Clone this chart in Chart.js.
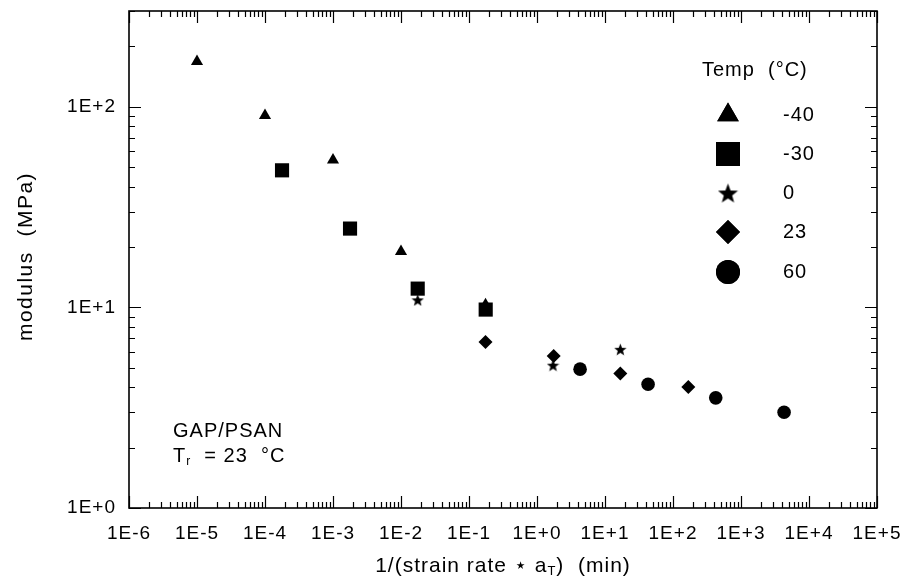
<!DOCTYPE html>
<html>
<head>
<meta charset="utf-8">
<script src="https://cdn.jsdelivr.net/npm/chart.js@4.4.1/dist/chart.umd.min.js"></script>
<style>
  html, body { margin: 0; padding: 0; background: #fff; }
  #wrap { width: 904px; height: 582px; }
</style>
</head>
<body>
<div id="wrap"><canvas id="chartModulus" width="904" height="582"></canvas></div>
<script>
// reduced time 1/(strain rate * aT) in min, modulus in MPa, one pair per test temperature
const tempLabels = ["-40", "-30", "0", "23", "60"];

const timeM40 = [1e-5, 1e-4, 1e-3, 1e-2, 0.175];
const modM40 = [168, 90.5, 54.3, 19.0, 10.3];

const timeM30 = [1.78e-4, 1.78e-3, 1.76e-2, 0.176];
const modM30 = [48.2, 24.7, 12.4, 9.75];

const time0 = [1.76e-2, 1.72, 16.8];
const mod0 = [10.9, 5.15, 6.18];

const time23 = [0.175, 1.76, 16.8, 168];
const mod23 = [6.72, 5.72, 4.68, 4.01];

const time60 = [4.3, 43, 425, 4300];
const mod60 = [4.92, 4.14, 3.54, 3.0];

const xTickValues = [1e-6, 1e-5, 1e-4, 1e-3, 1e-2, 1e-1, 1, 10, 100, 1000, 1e4, 1e5];
const yTickValues = [1, 10, 100];

const FONT = "'Liberation Sans', Arial, Helvetica, sans-serif";

function star_canvas(size) {
  const c = document.createElement("canvas");
  c.width = size;
  c.height = size;
  const g = c.getContext("2d");
  const R = size / 2, r = R * 0.42, cx = size / 2, cy = size / 2 + R * 0.1;
  g.beginPath();
  for (let i = 0; i < 10; i++) {
    const a = -Math.PI / 2 + (i * Math.PI) / 5;
    const rr = i % 2 ? r : R;
    g.lineTo(cx + rr * Math.cos(a), cy + rr * Math.sin(a));
  }
  g.closePath();
  g.fillStyle = "#000";
  g.fill();
  return c;
}

const starSmall = star_canvas(13);
const starBig = star_canvas(21);

const pts = (xs, ys) => xs.map((x, i) => ({ x: x, y: ys[i] }));

const seriesStyles = [
  { pointStyle: "triangle", pointRadius: 7, legendRadius: 12.5 },
  { pointStyle: "rect", pointRadius: 10, legendRadius: 17 },
  { pointStyle: starSmall, pointRadius: 6, legendImg: starBig },
  { pointStyle: "rectRot", pointRadius: 7, legendRadius: 12 },
  { pointStyle: "circle", pointRadius: 6.8, legendRadius: 12 },
];

const seriesData = [
  pts(timeM40, modM40),
  pts(timeM30, modM30),
  pts(time0, mod0),
  pts(time23, mod23),
  pts(time60, mod60),
];

const decadeLabel = (v) => {
  const e = Math.round(Math.log10(v));
  return "1E" + (e < 0 ? "-" : "+") + Math.abs(e);
};

// the scanned figure has slightly wide letter spacing
const spacing = {
  id: "spacing",
  beforeDraw(chart) {
    chart.ctx.letterSpacing = "1px";
  },
};

// frame with inward major + minor ticks on all four sides
const frameTicks = {
  id: "frameTicks",
  afterDraw(chart) {
    const ctx = chart.ctx;
    const a = chart.chartArea;
    const xs = chart.scales.x, ys = chart.scales.y;
    ctx.save();
    ctx.strokeStyle = "#000";
    ctx.lineWidth = 1.6;
    ctx.strokeRect(a.left, a.top, a.right - a.left, a.bottom - a.top);
    ctx.lineWidth = 1.2;
    const major = 12, minor = 6;
    ctx.beginPath();
    for (let k = -6; k <= 5; k++) {
      for (let m = 1; m <= 9; m++) {
        const v = m * Math.pow(10, k);
        if (v < xs.min * 0.999 || v > xs.max * 1.001) continue;
        const px = Math.round(xs.getPixelForValue(v)) + 0.5;
        const len = m === 1 ? major : minor;
        ctx.moveTo(px, a.bottom);
        ctx.lineTo(px, a.bottom - len);
        ctx.moveTo(px, a.top);
        ctx.lineTo(px, a.top + len);
      }
    }
    for (let k = 0; k <= 2; k++) {
      for (let m = 1; m <= 9; m++) {
        const v = m * Math.pow(10, k);
        if (v < ys.min * 0.999 || v > ys.max * 1.001) continue;
        const py = Math.round(ys.getPixelForValue(v)) + 0.5;
        const len = m === 1 ? major : minor;
        ctx.moveTo(a.left, py);
        ctx.lineTo(a.left + len, py);
        ctx.moveTo(a.right, py);
        ctx.lineTo(a.right - len, py);
      }
    }
    ctx.stroke();
    ctx.restore();
  },
};

// axis titles, annotation and the temperature legend
const textLayer = {
  id: "textLayer",
  afterDraw(chart) {
    const ctx = chart.ctx;
    const a = chart.chartArea;
    ctx.save();
    ctx.fillStyle = "#000";
    ctx.textBaseline = "middle";
    ctx.letterSpacing = "1px";

    // y title
    ctx.save();
    ctx.translate(26, (a.top + a.bottom) / 2 - 3);
    ctx.rotate(-Math.PI / 2);
    ctx.textAlign = "center";
    ctx.font = "21px " + FONT;
    ctx.letterSpacing = "1.5px";
    ctx.fillText("modulus  (MPa)", 0, 0);
    ctx.restore();

    // x title with subscript T
    const big = "21px " + FONT, small = "13px " + FONT;
    const p1 = "1/(strain rate \u22C6 a", p2 = "T", p3 = ")  (min)";
    ctx.font = big;
    const w1 = ctx.measureText(p1).width, w3 = ctx.measureText(p3).width;
    ctx.font = small;
    const w2 = ctx.measureText(p2).width;
    let x0 = (a.left + a.right) / 2 - (w1 + w2 + w3) / 2;
    const ty = 566;
    ctx.textAlign = "left";
    ctx.font = big;
    ctx.fillText(p1, x0, ty);
    ctx.font = small;
    ctx.fillText(p2, x0 + w1, ty + 5);
    ctx.font = big;
    ctx.fillText(p3, x0 + w1 + w2, ty);

    // annotation
    ctx.font = "20px " + FONT;
    ctx.fillText("GAP/PSAN", 173, 431);
    ctx.fillText("T", 173, 456);
    const tw = ctx.measureText("T").width;
    ctx.font = "12px " + FONT;
    ctx.fillText("r", 173 + tw, 462);
    const rw = ctx.measureText("r").width;
    ctx.font = "20px " + FONT;
    ctx.fillText("  = 23  \u00B0C", 173 + tw + rw, 456);

    // legend
    ctx.fillText("Temp  (\u00B0C)", 702, 70);
    const rowY = [115, 154, 193, 232, 272];
    const mx = 728, lx = 783;
    seriesStyles.forEach((s, i) => {
      const y = rowY[i];
      if (s.legendImg) {
        ctx.drawImage(s.legendImg, mx - s.legendImg.width / 2, y - s.legendImg.height / 2);
      } else {
        Chart.helpers.drawPoint(ctx, {
          pointStyle: s.pointStyle, radius: s.legendRadius, rotation: 0, borderWidth: 0,
        }, mx, y);
        ctx.fill();
      }
      ctx.font = "20px " + FONT;
      ctx.fillStyle = "#000";
      ctx.textAlign = "left";
      ctx.fillText(tempLabels[i], lx, y);
    });
    ctx.restore();
  },
};

const ctxModulus = document.getElementById("chartModulus").getContext("2d");
const modulusChart = new Chart(ctxModulus, {
  type: "scatter",
  data: {
    datasets: seriesData.map((d, i) => ({
      label: tempLabels[i],
      data: d,
      pointStyle: seriesStyles[i].pointStyle,
      pointRadius: seriesStyles[i].pointRadius,
      backgroundColor: "#000",
      borderColor: "#000",
      borderWidth: 0,
    })),
  },
  options: {
    responsive: false,
    animation: false,
    layout: { padding: { top: 11, right: 27, left: 0, bottom: 0 } },
    plugins: { legend: { display: false }, tooltip: { enabled: false } },
    scales: {
      x: {
        type: "logarithmic",
        position: "bottom",
        min: 1e-6,
        max: 1e5,
        grid: { display: false, drawTicks: false },
        border: { display: false },
        ticks: {
          color: "#000",
          font: { family: FONT, size: 19 },
          padding: 14,
          maxRotation: 0,
          autoSkip: false,
          callback: (v) => decadeLabel(v),
        },
        afterBuildTicks: (s) => { s.ticks = xTickValues.map((v) => ({ value: v })); },
        afterFit: (s) => {
          s.height = 74;
          s.paddingLeft = 0;
          s.paddingRight = 0;
        },
      },
      y: {
        type: "logarithmic",
        position: "left",
        min: 1,
        max: 300,
        grid: { display: false, drawTicks: false },
        border: { display: false },
        ticks: {
          color: "#000",
          font: { family: FONT, size: 19 },
          padding: 13,
          autoSkip: false,
          callback: (v) => decadeLabel(v),
        },
        afterBuildTicks: (s) => { s.ticks = yTickValues.map((v) => ({ value: v })); },
        afterFit: (s) => {
          s.width = 129;
          s.paddingTop = 0;
          s.paddingBottom = 0;
        },
      },
    },
  },
  plugins: [spacing, frameTicks, textLayer],
});
</script>
</body>
</html>
